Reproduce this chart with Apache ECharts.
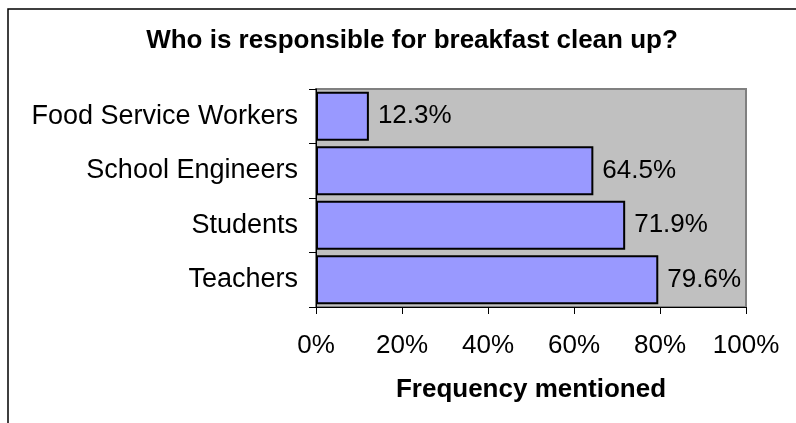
<!DOCTYPE html>
<html>
<head>
<meta charset="utf-8">
<script src="https://cdn.jsdelivr.net/npm/echarts@6/dist/echarts.min.js"></script>
<style>
  html, body { margin: 0; padding: 0; background: #fff; }
  #chart { width: 796px; height: 423px; }
</style>
</head>
<body>
<div id="chart"></div>
<script>
// data
let categories = ["Food Service Workers", "School Engineers", "Students", "Teachers"];
let values = [12.3, 64.5, 71.9, 79.6];
let titleText = "Who is responsible for breakfast clean up?";
let axisName = "Frequency mentioned";

let font = "Liberation Sans, Arial, sans-serif";
let chart = echarts.init(document.getElementById("chart"));

let option = {
    animation: false,
    backgroundColor: "#fff",
    title: {
        text: titleText,
        left: 407,
        top: 23,
        textAlign: "center",
        textStyle: { fontFamily: font, fontSize: 26, fontWeight: "bold", color: "#000" }
    },
    graphic: [{
        type: "rect",
        shape: { x: 8, y: 9, width: 900, height: 600 },
        style: { fill: null, stroke: "#000", lineWidth: 1.5 },
        z: -1
    }],
    grid: {
        left: 316,
        right: 50,
        top: 89,
        bottom: 116,
        show: true,
        backgroundColor: "#c0c0c0",
        borderColor: "#808080",
        borderWidth: 2
    },
    xAxis: {
        type: "value",
        min: 0,
        max: 100,
        interval: 20,
        name: axisName,
        nameLocation: "middle",
        nameGap: 70,
        nameTextStyle: { fontFamily: font, fontSize: 26, fontWeight: "bold", color: "#000" },
        axisLine: { show: true, lineStyle: { color: "#000", width: 1 } },
        axisTick: { show: true, length: 7, lineStyle: { color: "#000" } },
        splitLine: { show: false },
        axisLabel: {
            margin: 26,
            fontFamily: font,
            fontSize: 26,
            color: "#000",
            formatter: "{value}%"
        }
    },
    yAxis: {
        type: "category",
        data: categories,
        inverse: true,
        axisLine: { show: true, lineStyle: { color: "#000", width: 1 } },
        axisTick: { show: true, length: 7, lineStyle: { color: "#000" } },
        axisLabel: {
            margin: 18,
            fontFamily: font,
            fontSize: 27,
            color: "#000"
        }
    },
    series: [{
        type: "bar",
        data: values,
        barCategoryGap: "10%",
        itemStyle: {
            color: "#9999ff",
            borderColor: "#000",
            borderWidth: 2
        },
        label: {
            show: true,
            position: "right",
            distance: 9,
            fontFamily: font,
            fontSize: 26,
            color: "#000",
            formatter: function(p) {
                return p.value.toFixed(1) + "%";
            }
        }
    }]
};
chart.setOption(option);
</script>
</body>
</html>
